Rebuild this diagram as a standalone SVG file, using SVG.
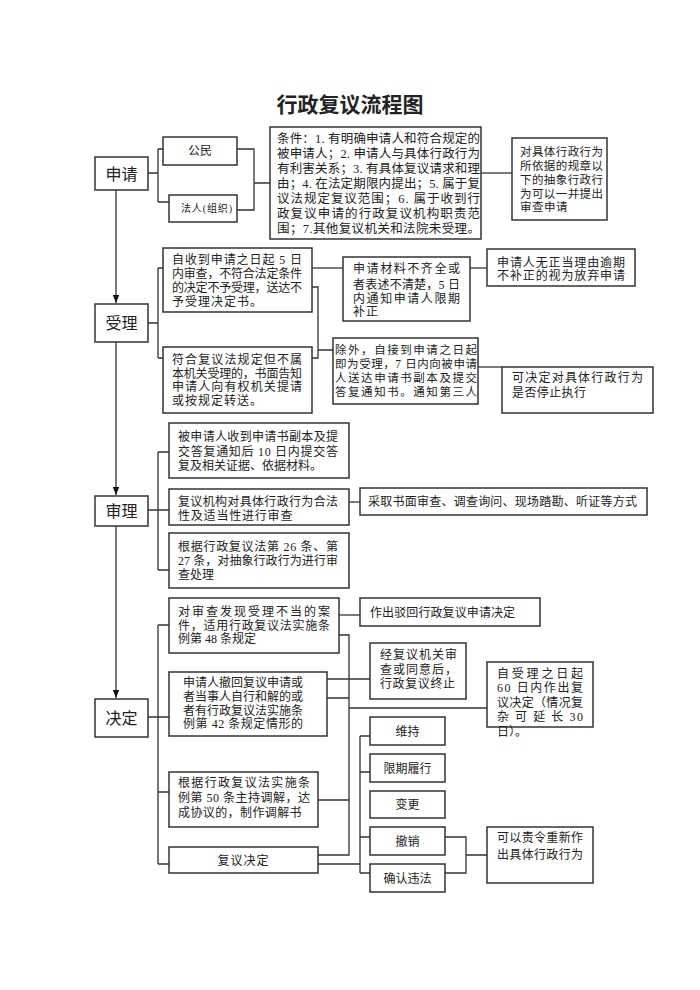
<svg xmlns="http://www.w3.org/2000/svg" width="700" height="990" viewBox="0 0 700 990">
<style>
text{font-family:'Liberation Serif','Noto Sans CJK SC',serif;fill:#222;}
.b{fill:#fff;stroke:#333;stroke-width:1.5;}
.t{font-size:12px;}
.u{font-size:11.5px;}
.s{font-size:12.5px;}
.st{font-size:16px;font-family:'Noto Sans CJK SC',sans-serif;}
.c{text-anchor:middle;}
.ln{fill:none;stroke:#333;stroke-width:1.3;}
</style>
<defs>
<marker id="arr" markerWidth="8" markerHeight="10" refX="10" refY="4" orient="auto" markerUnits="userSpaceOnUse" viewBox="0 0 10 8">
<path d="M0 0 L10 4 L0 8 Z" fill="#111"/>
</marker>
</defs>
<rect width="700" height="990" fill="#fff"/>
<text x="350" y="112" class="c" style="font-size:21px;font-weight:bold;font-family:'Noto Sans CJK SC',sans-serif">行政复议流程图</text>

<g id="connectors" class="ln">
<path d="M116 190 V303" marker-end="url(#arr)"/>
<path d="M116 342 V495" marker-end="url(#arr)"/>
<path d="M116 526 V698" marker-end="url(#arr)"/>
<path d="M148 173 H158 M158 149 V202 M158 149 H163 M158 202 H169"/>
<path d="M237 149 H254 V210 H237 M254 183 H270"/>
<path d="M481 173 H512"/>
<path d="M148 323 H158 M158 268 V358 M158 268 H163 M158 358 H163"/>
<path d="M312 268 H343"/>
<path d="M312 287 H318 V358 H312 M318 350 H333"/>
<path d="M470 268 H487"/>
<path d="M478 367 H502"/>
<path d="M148 510 H169 M158 452 V570 M158 452 H169 M158 570 H169"/>
<path d="M349 502 H360"/>
<path d="M148 717 H169 M158 625 V864 M158 625 H169 M158 792 H169 M158 864 H169"/>
<path d="M339 615 H360"/>
<path d="M339 635 H349 V855 H318 M327 698 H349 M318 800 H349 M349 708 H487"/>
<path d="M327 679 H370"/>
<path d="M318 864 H360 M360 736 V873 M360 736 H370 M360 772 H370 M360 837 H370 M360 873 H370"/>
<path d="M445 837 H466 V873 H445 M466 855 H487"/>
</g>

<g id="n-shenqing"><rect class="b" x="95" y="157" width="53" height="33"/><text x="121.5" y="179.5" class="st c">申请</text></g>
<g id="n-gongmin"><rect class="b" x="163" y="137" width="74" height="28"/><text x="200" y="155" class="t c">公民</text></g>
<g id="n-faren"><rect class="b" x="169" y="195" width="68" height="27"/><text x="181" y="212" style="font-size:10px" textLength="51" lengthAdjust="spacing">法人(组织)</text></g>
<g id="n-tiaojian"><rect class="b" x="270" y="127" width="211" height="112"/>
<text class="s" x="277" y="142.5" textLength="203" lengthAdjust="spacing">条件：1. 有明确申请人和符合规定的</text>
<text class="s" x="277" y="157.5" textLength="203" lengthAdjust="spacing">被申请人；2. 申请人与具体行政行为</text>
<text class="s" x="277" y="172.5" textLength="203" lengthAdjust="spacing">有利害关系；3. 有具体复议请求和理</text>
<text class="s" x="277" y="187.5" textLength="203" lengthAdjust="spacing">由；4. 在法定期限内提出；5. 属于复</text>
<text class="s" x="277" y="202.5" textLength="203" lengthAdjust="spacing">议法规定复议范围；6. 属于收到行</text>
<text class="s" x="277" y="217.5" textLength="203" lengthAdjust="spacing">政复议申请的行政复议机构职责范</text>
<text class="s" x="277" y="232.5" textLength="203" lengthAdjust="spacing">围；7.其他复议机关和法院未受理。</text>
</g>
<g id="n-guizhang"><rect class="b" x="512" y="138" width="95" height="82"/>
<text class="u" x="520" y="156" textLength="83" lengthAdjust="spacing">对具体行政行为</text>
<text class="u" x="520" y="170" textLength="83" lengthAdjust="spacing">所依据的规章以</text>
<text class="u" x="520" y="184" textLength="83" lengthAdjust="spacing">下的抽象行政行</text>
<text class="u" x="520" y="197.5" textLength="83" lengthAdjust="spacing">为可以一并提出</text>
<text class="u" x="520" y="211" style="letter-spacing:0.5px">审查申请</text>
</g>

<g id="n-shouli"><rect class="b" x="95" y="304" width="53" height="38"/><text x="121.5" y="329" class="st c">受理</text></g>
<g id="n-buyu"><rect class="b" x="163" y="248" width="149" height="64"/>
<text class="t" x="172" y="264" textLength="130" lengthAdjust="spacing">自收到申请之日起 5 日</text>
<text class="t" x="172" y="278" textLength="130" lengthAdjust="spacing">内审查，不符合法定条件</text>
<text class="t" x="172" y="292" textLength="130" lengthAdjust="spacing">的决定不予受理，送达不</text>
<text class="t" x="172" y="306" style="letter-spacing:1px">予受理决定书。</text>
</g>
<g id="n-zhuansong"><rect class="b" x="163" y="347" width="149" height="66"/>
<text class="t" x="172" y="364" textLength="130" lengthAdjust="spacing">符合复议法规定但不属</text>
<text class="t" x="172" y="377.5" textLength="130" lengthAdjust="spacing">本机关受理的，书面告知</text>
<text class="t" x="172" y="391" textLength="130" lengthAdjust="spacing">申请人向有权机关提请</text>
<text class="t" x="172" y="404.5" style="letter-spacing:1px">或按规定转送。</text>
</g>
<g id="n-buzheng"><rect class="b" x="343" y="257" width="127" height="64"/>
<text class="t" x="353" y="273" textLength="107" lengthAdjust="spacing">申请材料不齐全或</text>
<text class="t" x="353" y="289" textLength="107" lengthAdjust="spacing">者表述不清楚，5 日</text>
<text class="t" x="353" y="303" textLength="107" lengthAdjust="spacing">内通知申请人限期</text>
<text class="t" x="353" y="316" style="letter-spacing:1px">补正</text>
</g>
<g id="n-fangqi"><rect class="b" x="487" y="249" width="148" height="37"/>
<text class="t" x="497" y="267" textLength="128" lengthAdjust="spacing">申请人无正当理由逾期</text>
<text class="t" x="497" y="279.5" textLength="128" lengthAdjust="spacing">不补正的视为放弃申请</text>
</g>
<g id="n-chuwai"><rect class="b" x="333" y="338" width="145" height="66"/>
<text class="u" x="335" y="354" textLength="142" lengthAdjust="spacing">除外，自接到申请之日起</text>
<text class="u" x="335" y="368" textLength="142" lengthAdjust="spacing">即为受理，7 日内向被申请</text>
<text class="u" x="335" y="381.5" textLength="142" lengthAdjust="spacing">人送达申请书副本及提交</text>
<text class="u" x="335" y="396" textLength="142" lengthAdjust="spacing">答复通知书。通知第三人</text>
</g>
<g id="n-tingzhi"><rect class="b" x="502" y="367" width="151" height="46"/>
<text class="t" x="512" y="382" textLength="131" lengthAdjust="spacing">可决定对具体行政行为</text>
<text class="t" x="512" y="397" style="letter-spacing:0.4px">是否停止执行</text>
</g>

<g id="n-shenli"><rect class="b" x="95" y="496" width="53" height="30"/><text x="121.5" y="517" class="st c">审理</text></g>
<g id="n-dafu"><rect class="b" x="169" y="423" width="180" height="55"/>
<text class="t" x="178" y="441" textLength="160" lengthAdjust="spacing">被申请人收到申请书副本及提</text>
<text class="t" x="178" y="456" textLength="160" lengthAdjust="spacing">交答复通知后 10 日内提交答</text>
<text class="t" x="178" y="469.5">复及相关证据、依据材料。</text>
</g>
<g id="n-hefa"><rect class="b" x="169" y="489" width="180" height="36"/>
<text class="t" x="178" y="506" textLength="160" lengthAdjust="spacing">复议机构对具体行政行为合法</text>
<text class="t" x="178" y="519.5" style="letter-spacing:0.8px">性及适当性进行审查</text>
</g>
<g id="n-chouxiang"><rect class="b" x="169" y="533" width="180" height="55"/>
<text class="t" x="178" y="551" textLength="160" lengthAdjust="spacing">根据行政复议法第 26 条、第</text>
<text class="t" x="178" y="565" textLength="160" lengthAdjust="spacing">27 条，对抽象行政行为进行审</text>
<text class="t" x="178" y="578.5">查处理</text>
</g>
<g id="n-fangshi"><rect class="b" x="360" y="488" width="287" height="27"/>
<text class="t" x="368" y="506" textLength="269" lengthAdjust="spacing">采取书面审查、调查询问、现场踏勘、听证等方式</text>
</g>

<g id="n-jueding"><rect class="b" x="95" y="699" width="53" height="38"/><text x="121.5" y="724" class="st c">决定</text></g>
<g id="n-budang"><rect class="b" x="169" y="598" width="170" height="55"/>
<text class="t" x="178" y="616" textLength="152" lengthAdjust="spacing">对审查发现受理不当的案</text>
<text class="t" x="178" y="629.5" textLength="152" lengthAdjust="spacing">件，适用行政复议法实施条</text>
<text class="t" x="178" y="643">例第 48 条规定</text>
</g>
<g id="n-bohui"><rect class="b" x="360" y="598" width="180" height="28"/>
<text class="t" x="370" y="616.5" style="letter-spacing:0.1px">作出驳回行政复议申请决定</text>
</g>
<g id="n-chehui"><rect class="b" x="169" y="672" width="158" height="64"/>
<text class="t" x="183" y="687" textLength="120" lengthAdjust="spacing">申请人撤回复议申请或</text>
<text class="t" x="183" y="701" textLength="120" lengthAdjust="spacing">者当事人自行和解的或</text>
<text class="t" x="183" y="714.5" textLength="120" lengthAdjust="spacing">者有行政复议法实施条</text>
<text class="t" x="183" y="728" textLength="120" lengthAdjust="spacing">例第 42 条规定情形的</text>
</g>
<g id="n-zhongzhi"><rect class="b" x="370" y="643" width="96" height="56"/>
<text class="t" x="380" y="659" textLength="77" lengthAdjust="spacing">经复议机关审</text>
<text class="t" x="380" y="674" textLength="77" lengthAdjust="spacing">查或同意后，</text>
<text class="t" x="380" y="688" textLength="75" lengthAdjust="spacing">行政复议终止</text>
</g>
<g id="n-qixian"><rect class="b" x="487" y="662" width="106" height="65"/>
<text class="t" x="497" y="678" textLength="86" lengthAdjust="spacing">自受理之日起</text>
<text class="t" x="497" y="692" textLength="86" lengthAdjust="spacing">60 日内作出复</text>
<text class="t" x="497" y="707" textLength="86" lengthAdjust="spacing">议决定（情况复</text>
<text class="t" x="497" y="721" textLength="86" lengthAdjust="spacing">杂 可 延 长 30</text>
<text class="t" x="497" y="736">日）。</text>
</g>
<g id="n-tiaojie"><rect class="b" x="169" y="772" width="149" height="55"/>
<text class="t" x="178" y="787" textLength="132" lengthAdjust="spacing">根据行政复议法实施条</text>
<text class="t" x="178" y="802" textLength="132" lengthAdjust="spacing">例第 50 条主持调解，达</text>
<text class="t" x="178" y="817" style="letter-spacing:0.4px">成协议的，制作调解书</text>
</g>
<g id="n-fuyijueding"><rect class="b" x="169" y="847" width="149" height="26"/>
<text class="t c" x="243.5" y="864.5" style="letter-spacing:1px">复议决定</text>
</g>
<g id="n-weichi"><rect class="b" x="370" y="717" width="75" height="28"/><text class="t c" x="407.5" y="735.5">维持</text></g>
<g id="n-lvxing"><rect class="b" x="370" y="754" width="75" height="28"/><text class="t c" x="407.5" y="772.5">限期履行</text></g>
<g id="n-biangeng"><rect class="b" x="370" y="791" width="75" height="27"/><text class="t c" x="407.5" y="809">变更</text></g>
<g id="n-chexiao"><rect class="b" x="370" y="827" width="75" height="28"/><text class="t c" x="407.5" y="845.5">撤销</text></g>
<g id="n-weifa"><rect class="b" x="370" y="864" width="75" height="28"/><text class="t c" x="407.5" y="882.5">确认违法</text></g>
<g id="n-chongxin"><rect class="b" x="487" y="827" width="106" height="56"/>
<text class="t" x="497" y="842" textLength="86" lengthAdjust="spacing">可以责令重新作</text>
<text class="t" x="497" y="859" textLength="86" lengthAdjust="spacing">出具体行政行为</text>
</g>
</svg>
